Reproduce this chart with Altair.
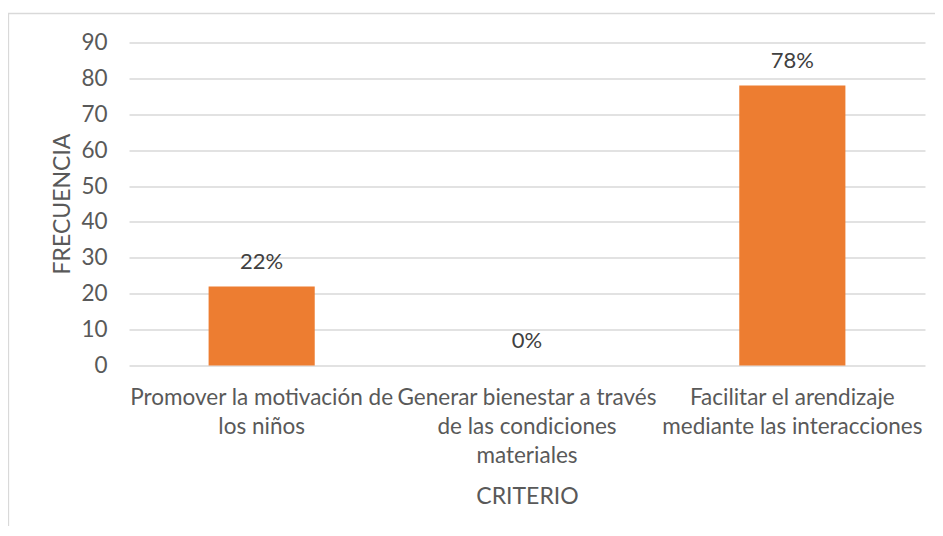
import altair as alt
import pandas as pd

# Data
categories = [
    "Promover la motivación de|los niños",
    "Generar bienestar a través|de las condiciones|materiales",
    "Facilitar el arendizaje|mediante las interacciones",
]
values = [22, 0, 78]
value_labels = ["22%", "0%", "78%"]
y_ticks = [0, 10, 20, 30, 40, 50, 60, 70, 80, 90]

df = pd.DataFrame({"criterio": categories, "frecuencia": values, "etiqueta": value_labels})

FONT = "Lato"
TXT = "#595959"
GRID = "#D9D9D9"

x_enc = alt.X(
    "criterio:N",
    sort=None,
    scale=alt.Scale(paddingInner=0.6, paddingOuter=0.3),
    axis=alt.Axis(
        title="CRITERIO",
        titleFont=FONT,
        titleFontSize=23,
        titleFontWeight="normal",
        titleColor=TXT,
        titleX=398,
        titleY=137.5,
        titleAlign="center",
        titleBaseline="alphabetic",
        labelAngle=0,
        labelFont=FONT,
        labelFontSize=22.5,
        labelColor=TXT,
        labelExpr="split(datum.label, '|')",
        labelLineHeight=29,
        labelBaseline="top",
        labelPadding=21,
        labelOverlap=False,
        labelLimit=600,
        labelBound=False,
        domain=False,
        ticks=False,
        grid=False,
    ),
)

y_enc = alt.Y(
    "frecuencia:Q",
    scale=alt.Scale(domain=[0, 90], nice=False),
    axis=alt.Axis(
        title="FRECUENCIA",
        titleFont=FONT,
        titleFontSize=23,
        titleFontWeight="normal",
        titleColor=TXT,
        titleX=-60,
        titleY=161,
        titleAngle=270,
        titleAlign="center",
        titleBaseline="alphabetic",
        values=y_ticks,
        labelFont=FONT,
        labelFontSize=22.5,
        labelColor=TXT,
        labelPadding=22,
        labelBaseline="middle",
        labelOverlap=False,
        domain=False,
        ticks=False,
        grid=True,
        gridColor=GRID,
        gridWidth=1.3,
    ),
)

base = alt.Chart(df).encode(x=x_enc, y=y_enc)

bars = base.mark_bar(color="#ED7D31")

texts = base.mark_text(
    font=FONT, fontSize=22, color="#404040", baseline="alphabetic", dy=-18
).encode(text="etiqueta:N")

frame_df = pd.DataFrame({"k": [0]})
left_edge = alt.Chart(frame_df).mark_rule(color=GRID, strokeWidth=1.3).encode(
    x=alt.value(-120.5), y=alt.value(-29), y2=alt.value(700)
)
top_edge = alt.Chart(frame_df).mark_rule(color=GRID, strokeWidth=1.3).encode(
    x=alt.value(-121), x2=alt.value(1000), y=alt.value(-29)
)

chart = (
    alt.layer(bars, texts, left_edge, top_edge)
    .properties(
        width=796,
        height=323,
        autosize=alt.AutoSizeParams(type="none"),
        padding={"left": 121, "top": 34.5, "right": 10, "bottom": 160},
        background="white",
    )
    .configure_view(stroke=None)
)

chart.save("out.html", embed_options={"renderer": "svg", "actions": False})
